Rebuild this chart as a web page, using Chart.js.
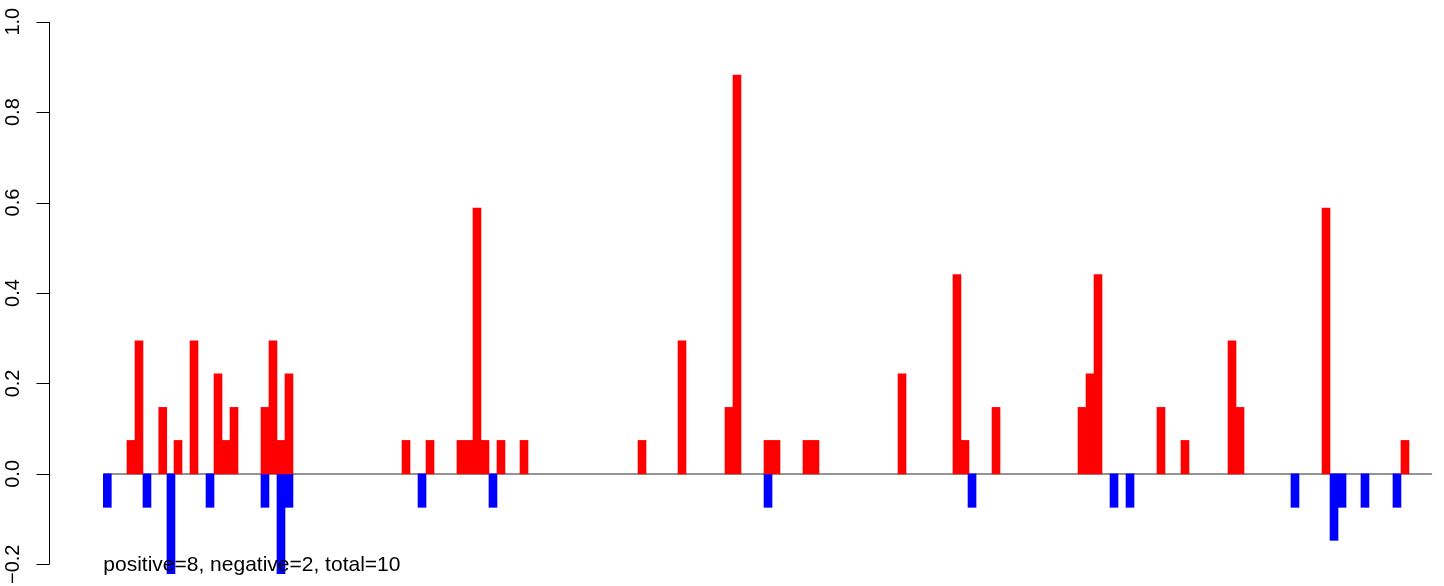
<!DOCTYPE html>
<html>
<head>
<meta charset="utf-8">
<script src="https://cdn.jsdelivr.net/npm/chart.js@4.4.0/dist/chart.umd.min.js"></script>
<style>
    html, body { margin: 0; padding: 0; background: #ffffff; }
    #js-chart-container { width: 1444px; height: 586px; position: relative; }
</style>
</head>
<body>
<div id="js-chart-container"><canvas id="js-chart"></canvas></div>
<script>
// bar positions (in bar widths from the first bar) and heights
var posX = [2.96, 3.96, 6.93, 8.84, 10.84, 13.84, 14.84, 15.84, 19.71, 20.71, 21.71, 22.71,
            37.34, 40.34, 44.21, 45.21, 46.21, 47.21, 49.21, 52.09, 66.84, 71.84, 77.71, 78.71,
            82.59, 83.59, 87.46, 88.46, 99.34, 106.21, 107.21, 111.09, 121.84, 122.84, 123.84,
            131.71, 134.71, 140.59, 141.59, 152.34, 162.21];
var posY = [0.074, 0.294, 0.147, 0.074, 0.294, 0.221, 0.074, 0.147, 0.147, 0.294, 0.074, 0.221,
            0.074, 0.074, 0.074, 0.074, 0.588, 0.074, 0.074, 0.074, 0.074, 0.294, 0.147, 0.882,
            0.074, 0.074, 0.074, 0.074, 0.221, 0.441, 0.074, 0.147, 0.147, 0.221, 0.441,
            0.147, 0.074, 0.294, 0.147, 0.588, 0.074];

var negX = [0, 4.96, 7.96, 12.84, 19.71, 21.71, 22.71, 39.34, 48.21, 82.59, 108.09, 125.84,
            127.84, 148.46, 153.34, 154.34, 157.21, 161.21];
var negY = [-0.074, -0.074, -0.221, -0.074, -0.074, -0.221, -0.074, -0.074, -0.074, -0.074, -0.074, -0.074,
            -0.074, -0.074, -0.147, -0.074, -0.074, -0.074];

var yTicks = [-0.2, 0, 0.2, 0.4, 0.6, 0.8, 1.0];
var zeroLineFrom = -0.45,
    zeroLineTo = 165.6;
var summaryText = "positive=8, negative=2, total=10";

var fontFamily = "'Liberation Sans', Arial, Helvetica, sans-serif";

function toPoints(xs, ys) {
    var pts = [];
    for (var i = 0; i < xs.length; i++) {
        pts.push({x: xs[i], y: ys[i]});
    }
    return pts;
}

/* R style left axis: line, outward ticks and labels turned along the axis */
var baseAxisPlugin = {
    id: "baseAxis",
    beforeDatasetsDraw: function(chart) {
        var ctx = chart.ctx,
            xs = chart.scales.x,
            ys = chart.scales.y,
            y0 = Math.round(ys.getPixelForValue(0));

        // grey zero line under the bars
        ctx.save();
        ctx.strokeStyle = "#707070";
        ctx.lineWidth = 1.3;
        ctx.beginPath();
        ctx.moveTo(xs.getPixelForValue(zeroLineFrom), y0);
        ctx.lineTo(xs.getPixelForValue(zeroLineTo), y0);
        ctx.stroke();
        ctx.restore();
    },
    afterDraw: function(chart) {
        var ctx = chart.ctx,
            xs = chart.scales.x,
            ys = chart.scales.y,
            axisX = Math.round(chart.chartArea.left) - 0.5,
            top = ys.getPixelForValue(yTicks[yTicks.length - 1]),
            bottom = ys.getPixelForValue(yTicks[0]);

        ctx.save();
        ctx.strokeStyle = "#000000";
        ctx.lineWidth = 1;
        ctx.beginPath();
        ctx.moveTo(axisX, top);
        ctx.lineTo(axisX, bottom);
        yTicks.forEach(function(v) {
            var py = Math.round(ys.getPixelForValue(v)) + 0.5;
            ctx.moveTo(axisX - 13, py);
            ctx.lineTo(axisX, py);
        });
        ctx.stroke();

        ctx.fillStyle = "#000000";
        ctx.font = "20px " + fontFamily;
        ctx.textAlign = "center";
        ctx.textBaseline = "alphabetic";
        yTicks.forEach(function(v) {
            var label = v.toFixed(1).replace("-", "\u2212");
            ctx.save();
            ctx.translate(19, ys.getPixelForValue(v));
            ctx.rotate(-Math.PI / 2);
            ctx.fillText(label, 0, 0);
            ctx.restore();
        });

        // counts written at the foot of the plot
        ctx.font = "21px " + fontFamily;
        ctx.textAlign = "left";
        ctx.textBaseline = "middle";
        ctx.fillStyle = "#000000";
        ctx.fillText(summaryText, xs.getPixelForValue(-0.5), ys.getPixelForValue(-0.2) + 1);
        ctx.restore();
    }
};

var chart = new Chart(document.getElementById("js-chart"), {
    type: "bar",
    data: {
        datasets: [{
            label: "positive",
            data: toPoints(posX, posY),
            backgroundColor: "#ff0000",
            barThickness: 8,
            grouped: false
        }, {
            label: "negative",
            data: toPoints(negX, negY),
            backgroundColor: "#0000ff",
            barThickness: 8,
            grouped: false
        }]
    },
    options: {
        responsive: true,
        maintainAspectRatio: false,
        devicePixelRatio: 1,
        animation: false,
        layout: { padding: { left: 50, right: 0, top: 0, bottom: 0 } },
        plugins: {
            legend: { display: false },
            tooltip: { enabled: false }
        },
        scales: {
            x: {
                type: "linear",
                display: false,
                offset: false,
                min: -7.1625,
                max: 167.0875
            },
            y: {
                type: "linear",
                display: false,
                min: -0.248,
                max: 1.048
            }
        }
    },
    plugins: [baseAxisPlugin]
});
</script>
</body>
</html>
